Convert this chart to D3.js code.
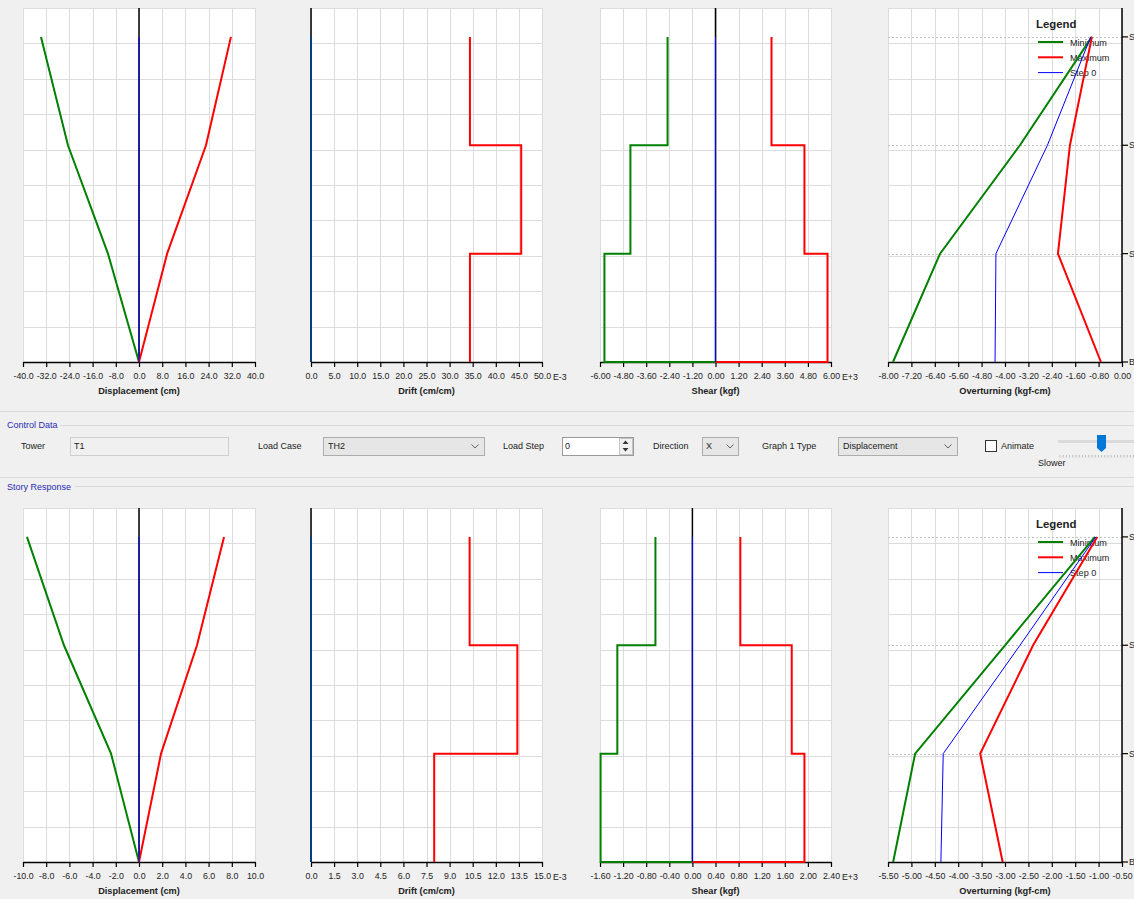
<!DOCTYPE html>
<html>
<head>
<meta charset="utf-8">
<script src="https://cdn.jsdelivr.net/npm/d3@7"></script>
<style>
  body { margin: 0; background: #f0f0f0; }
  svg { display: block; font-family: "Liberation Sans", Arial, sans-serif; }
</style>
</head>
<body>
<svg id="chart" width="1134" height="899"></svg>
<script>
// Stories (categories) and their elevations
const stories = ['Base', 'Story1', 'Story2', 'Story3'];
const storyElev = [0, 3, 6, 9];
const elevMax = 9.8;

// Top row (load step result set 1) - values per story Base..Story3
const dispMinTop = [0, -10.7, -24.5, -33.8];
const dispMaxTop = [0, 9.7, 23.1, 31.7];
const dispStepTop = [0, 0, 0, 0];
// drift / shear values per story Story1..Story3
const driftMinTop = [0, 0, 0];
const driftMaxTop = [34.4, 45.5, 34.4];
const driftStepTop = [0, 0, 0];
const shearMinTop = [-5.77, -4.42, -2.49];
const shearMaxTop = [5.82, 4.62, 2.91];
const shearStepTop = [0, 0, 0];
const otmMinTop = [-7.83, -6.22, -3.49, -1.03];
const otmMaxTop = [-0.72, -2.19, -1.78, -1.03];
const otmStepTop = [-4.34, -4.31, -2.55, -1.07];

// Bottom row
const dispMinBot = [0, -2.41, -6.47, -9.66];
const dispMaxBot = [0, 1.9, 5.0, 7.33];
const dispStepBot = [0, 0, 0, 0];
const driftMinBot = [0, 0, 0];
const driftMaxBot = [8.0, 13.4, 10.3];
const driftStepBot = [0, 0, 0];
const shearMinBot = [-1.59, -1.30, -0.64];
const shearMaxBot = [1.94, 1.72, 0.83];
const shearStepBot = [0, 0, 0];
const otmMinBot = [-5.39, -4.92, -3.0, -1.08];
const otmMaxBot = [-3.05, -3.53, -2.40, -1.03];
const otmStepBot = [-4.37, -4.32, -2.68, -1.06];

// Tick labels
const dispTicksTop = [-40, -32, -24, -16, -8, 0, 8, 16, 24, 32, 40];
const driftTicksTop = [0, 5, 10, 15, 20, 25, 30, 35, 40, 45, 50];
const shearTicksTop = [-6, -4.8, -3.6, -2.4, -1.2, 0, 1.2, 2.4, 3.6, 4.8, 6];
const otmTicksTop = [-8, -7.2, -6.4, -5.6, -4.8, -4, -3.2, -2.4, -1.6, -0.8, 0];
const dispTicksBot = [-10, -8, -6, -4, -2, 0, 2, 4, 6, 8, 10];
const driftTicksBot = [0, 1.5, 3, 4.5, 6, 7.5, 9, 10.5, 12, 13.5, 15];
const shearTicksBot = [-1.6, -1.2, -0.8, -0.4, 0, 0.4, 0.8, 1.2, 1.6, 2.0, 2.4];
const otmTicksBot = [-5.5, -5, -4.5, -4, -3.5, -3, -2.5, -2, -1.5, -1, -0.5];

const legendNames = ['Minimum', 'Maximum', 'Step 0'];

// Layout
const panelX = [[23, 255], [311, 542], [600, 831], [888, 1122]];
const rowTop = [8, 508];
const rowBase = [362, 862];
const colorMin = '#008000';
const colorMax = '#ff0000';
const colorStep = '#0000ff';
const colorGrid = '#dcdcdc';
const colorGroup = '#2a2ab4';

const svg = d3.select('#chart');

// point builders
function profilePoints(vals) {
    return vals.map((v, i) => [v, storyElev[i]]);
}
function stepPoints(vals) {
    const pts = [];
    for (let i = vals.length; i >= 1; i--) {
        pts.push([vals[i - 1], storyElev[i]]);
        pts.push([vals[i - 1], storyElev[i - 1]]);
    }
    return pts;
}
function shearPoints(vals) {
    const pts = stepPoints(vals);
    pts.push([0, 0]);
    return pts;
}

function drawPanel(row, col, cfg) {
    const [x0, x1] = panelX[col];
    const yTop = rowTop[row], yBase = rowBase[row];
    const x = d3.scaleLinear().domain([cfg.ticks[0], cfg.ticks[cfg.ticks.length - 1]]).range([x0, x1]);
    const y = d3.scaleLinear().domain([0, elevMax]).range([yBase, yTop]);
    const g = svg.append('g');

    g.append('rect').attr('x', x0).attr('y', yTop)
        .attr('width', x1 - x0).attr('height', yBase - yTop).attr('fill', '#fff');

    // grid
    g.selectAll('.vg').data(cfg.ticks).join('line')
        .attr('x1', d => Math.round(x(d)) + 0.5).attr('x2', d => Math.round(x(d)) + 0.5)
        .attr('y1', yTop).attr('y2', yBase)
        .attr('stroke', colorGrid).attr('stroke-width', 1);
    g.selectAll('.hg').data(d3.range(11).map(i => i * elevMax / 10)).join('line')
        .attr('x1', x0).attr('x2', x1)
        .attr('y1', d => Math.round(y(d)) + 0.5).attr('y2', d => Math.round(y(d)) + 0.5)
        .attr('stroke', colorGrid).attr('stroke-width', 1);

    if (cfg.rightAxis) {
        g.selectAll('.sl').data(storyElev.slice(1)).join('line')
            .attr('x1', x0).attr('x2', x1)
            .attr('y1', d => Math.round(y(d)) + 0.5).attr('y2', d => Math.round(y(d)) + 0.5)
            .attr('stroke', '#c4c4c4').attr('stroke-dasharray', '2,2');
    }

    // bottom axis
    const axis = d3.axisBottom(x).tickValues(cfg.ticks)
        .tickFormat(d => d.toFixed(cfg.digits)).tickSize(5).tickSizeOuter(0).tickPadding(6);
    const ag = g.append('g').attr('transform', `translate(0,${yBase})`).call(axis);
    ag.select('.domain').attr('stroke', '#000').attr('stroke-width', 1.5);
    ag.selectAll('.tick line').attr('stroke', '#000').attr('stroke-width', 1.2);
    ag.selectAll('.tick text').attr('font-size', 8.8).attr('fill', '#222')
        .attr('font-family', '"Liberation Sans", Arial, sans-serif');

    if (cfg.exp) {
        g.append('text').attr('x', x1 + 11).attr('y', yBase + 17.5)
            .attr('font-size', 8.8).attr('fill', '#222').text(cfg.exp);
    }
    g.append('text').attr('x', (x0 + x1) / 2).attr('y', yBase + 32)
        .attr('text-anchor', 'middle').attr('font-size', 9.2).attr('font-weight', 'bold')
        .attr('fill', '#222').text(cfg.title);

    // zero line
    if (cfg.zeroLine) {
        g.append('line').attr('x1', x(0)).attr('x2', x(0))
            .attr('y1', yTop).attr('y2', yBase)
            .attr('stroke', '#000').attr('stroke-width', 1.5);
    }

    if (cfg.rightAxis) {
        g.append('line').attr('x1', x1).attr('x2', x1).attr('y1', yTop).attr('y2', yBase)
            .attr('stroke', '#000').attr('stroke-width', 1.5);
        g.selectAll('.rt').data(storyElev).join('line')
            .attr('x1', x1).attr('x2', x1 + 6)
            .attr('y1', d => y(d)).attr('y2', d => y(d))
            .attr('stroke', '#000').attr('stroke-width', 1.2);
        g.selectAll('.rl').data(stories).join('text')
            .attr('x', x1 + 7).attr('y', (d, i) => y(storyElev[i]) + 3)
            .attr('font-size', 8.8).attr('fill', '#222').text(d => d);
    }

    if (cfg.legend) {
        const lg = g.append('g');
        lg.append('text').attr('x', 1036).attr('y', yTop + 20)
            .attr('font-size', 11.4).attr('font-weight', 'bold').attr('fill', '#222').text('Legend');
        const lc = [colorMin, colorMax, colorStep];
        const lw = [2, 2, 1];
        legendNames.forEach((n, i) => {
            const ly = yTop + 34 + i * 15.3;
            lg.append('line').attr('x1', 1038).attr('x2', 1063).attr('y1', ly).attr('y2', ly)
                .attr('stroke', lc[i]).attr('stroke-width', lw[i]);
            lg.append('text').attr('x', 1070).attr('y', ly + 3.5)
                .attr('font-size', 9.1).attr('fill', '#222').text(n);
        });
    }

    const line = d3.line().x(d => x(d[0])).y(d => y(d[1]));
    const sets = [[cfg.min, colorMin, 2], [cfg.max, colorMax, 2], [cfg.step, colorStep, 1]];
    sets.forEach(([vals, c, w]) => {
        g.append('path').datum(cfg.points(vals)).attr('d', line)
            .attr('fill', 'none').attr('stroke', c).attr('stroke-width', w);
    });
}

const rows = [
    [dispMinTop, dispMaxTop, dispStepTop, driftMinTop, driftMaxTop, driftStepTop,
     shearMinTop, shearMaxTop, shearStepTop, otmMinTop, otmMaxTop, otmStepTop,
     dispTicksTop, driftTicksTop, shearTicksTop, otmTicksTop],
    [dispMinBot, dispMaxBot, dispStepBot, driftMinBot, driftMaxBot, driftStepBot,
     shearMinBot, shearMaxBot, shearStepBot, otmMinBot, otmMaxBot, otmStepBot,
     dispTicksBot, driftTicksBot, shearTicksBot, otmTicksBot]
];

rows.forEach((r, ri) => {
    drawPanel(ri, 0, { ticks: r[12], digits: 1, title: 'Displacement (cm)', zeroLine: true,
        min: r[0], max: r[1], step: r[2], points: profilePoints });
    drawPanel(ri, 1, { ticks: r[13], digits: 1, title: 'Drift (cm/cm)', exp: 'E-3', zeroLine: true,
        min: r[3], max: r[4], step: r[5], points: stepPoints });
    drawPanel(ri, 2, { ticks: r[14], digits: 2, title: 'Shear (kgf)', exp: 'E+3', zeroLine: true,
        min: r[6], max: r[7], step: r[8], points: shearPoints });
    drawPanel(ri, 3, { ticks: r[15], digits: 2, title: 'Overturning (kgf-cm)', rightAxis: true, legend: true,
        min: r[9], max: r[10], step: r[11], points: profilePoints });
});

// Control strip
const cs = svg.append('g').attr('font-size', 9).attr('fill', '#222');
function hline(y, xa, xb, c) {
    cs.append('line').attr('x1', xa).attr('x2', xb).attr('y1', y).attr('y2', y)
        .attr('stroke', c || '#d9d9d9');
}
function label(t, xx, yy, c) {
    cs.append('text').attr('x', xx).attr('y', yy).attr('fill', c || '#222').text(t);
}
function box(xx, yy, w, h, fill, stroke) {
    cs.append('rect').attr('x', xx + 0.5).attr('y', yy + 0.5).attr('width', w).attr('height', h)
        .attr('fill', fill).attr('stroke', stroke);
}
function chevron(cx, cy) {
    cs.append('path').attr('d', `M${cx - 3.5},${cy - 1.5} L${cx},${cy + 2} L${cx + 3.5},${cy - 1.5}`)
        .attr('fill', 'none').attr('stroke', '#555').attr('stroke-width', 0.9);
}

hline(411.5, 0, 1134);
label('Control Data', 7, 428, colorGroup);
hline(425.5, 60, 1134);
label('Tower', 21, 449);
box(70, 437, 158, 18, '#f0f0f0', '#cfcfcf');
label('T1', 74, 449);
label('Load Case', 258, 449);
box(323, 437, 161, 18, '#e6e6e6', '#adadad');
label('TH2', 328, 449);
chevron(475, 446);
label('Load Step', 503, 449);
box(562, 437, 71, 18, '#fff', '#9a9a9a');
label('0', 565, 449);
box(619, 438, 13, 16, '#f0f0f0', '#c4c4c4');
cs.append('path').attr('d', 'M622.5,444 L625.5,440.5 L628.5,444 Z').attr('fill', '#333');
cs.append('path').attr('d', 'M622.5,448 L625.5,451.5 L628.5,448 Z').attr('fill', '#333');
label('Direction', 653, 449);
box(702, 437, 36, 18, '#e6e6e6', '#adadad');
label('X', 706, 449);
chevron(730, 446);
label('Graph 1 Type', 762, 449);
box(838, 437, 119, 18, '#e6e6e6', '#adadad');
label('Displacement', 843, 449);
chevron(948, 446);
box(985, 440, 11, 11, '#fff', '#333');
label('Animate', 1001, 449);
cs.append('rect').attr('x', 1058).attr('y', 440).attr('width', 76).attr('height', 3).attr('fill', '#dadada');
d3.range(1060, 1134, 3.2).forEach(tx => {
    cs.append('line').attr('x1', tx).attr('x2', tx).attr('y1', 455).attr('y2', 457.5)
        .attr('stroke', '#b0b0b0').attr('stroke-width', 0.8);
});
cs.append('path').attr('d', 'M1097,435 L1106,435 L1106,448 L1101.5,452 L1097,448 Z').attr('fill', '#0078d7');
label('Slower', 1038, 466);
hline(477.5, 0, 1134);
label('Story Response', 7, 490, colorGroup);
hline(486.5, 75, 1134);
</script>
</body>
</html>
